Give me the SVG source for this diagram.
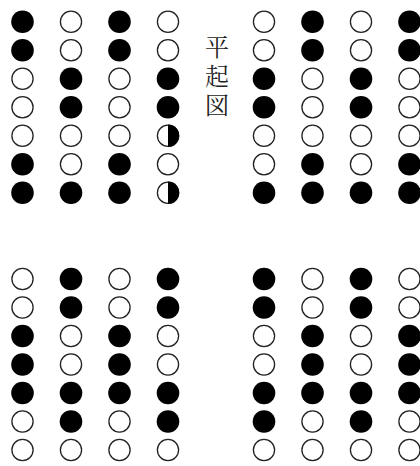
<svg xmlns="http://www.w3.org/2000/svg" xmlns:xlink="http://www.w3.org/1999/xlink" width="420" height="466" viewBox="0 0 420 466">
<defs>
<style>
.lbl{font-family:"Noto Serif CJK JP","Noto Sans CJK JP",serif;font-size:24px;fill:#222;writing-mode:vertical-rl;letter-spacing:5px}
</style>
<circle id="b" r="11.3" fill="#000"/>
<circle id="w" r="10.6" fill="#fff" stroke="#222" stroke-width="1.3"/>
<g id="h"><circle r="10.6" fill="#fff" stroke="#222" stroke-width="1.3"/><path d="M0,-11.3 A11.3,11.3 0 0 1 0,11.3 Z" fill="#000"/></g>
</defs>
<rect width="420" height="466" fill="#fff"/>
<g id="block-top-left">
<use href="#b" x="22.5" y="21.7"/><use href="#w" x="71" y="21.7"/><use href="#b" x="119.5" y="21.7"/><use href="#w" x="168" y="21.7"/>
<use href="#b" x="22.5" y="50.2"/><use href="#w" x="71" y="50.2"/><use href="#b" x="119.5" y="50.2"/><use href="#w" x="168" y="50.2"/>
<use href="#w" x="22.5" y="78.7"/><use href="#b" x="71" y="78.7"/><use href="#w" x="119.5" y="78.7"/><use href="#b" x="168" y="78.7"/>
<use href="#w" x="22.5" y="107.2"/><use href="#b" x="71" y="107.2"/><use href="#w" x="119.5" y="107.2"/><use href="#b" x="168" y="107.2"/>
<use href="#w" x="22.5" y="135.7"/><use href="#w" x="71" y="135.7"/><use href="#w" x="119.5" y="135.7"/><use href="#h" x="168" y="135.7"/>
<use href="#b" x="22.5" y="164.2"/><use href="#w" x="71" y="164.2"/><use href="#b" x="119.5" y="164.2"/><use href="#w" x="168" y="164.2"/>
<use href="#b" x="22.5" y="192.7"/><use href="#b" x="71" y="192.7"/><use href="#b" x="119.5" y="192.7"/><use href="#h" x="168" y="192.7"/>
</g>
<g id="block-top-right">
<use href="#w" x="264" y="21.7"/><use href="#b" x="312.5" y="21.7"/><use href="#w" x="361" y="21.7"/><use href="#b" x="409.5" y="21.7"/>
<use href="#w" x="264" y="50.2"/><use href="#b" x="312.5" y="50.2"/><use href="#w" x="361" y="50.2"/><use href="#b" x="409.5" y="50.2"/>
<use href="#b" x="264" y="78.7"/><use href="#w" x="312.5" y="78.7"/><use href="#b" x="361" y="78.7"/><use href="#w" x="409.5" y="78.7"/>
<use href="#b" x="264" y="107.2"/><use href="#w" x="312.5" y="107.2"/><use href="#b" x="361" y="107.2"/><use href="#w" x="409.5" y="107.2"/>
<use href="#w" x="264" y="135.7"/><use href="#w" x="312.5" y="135.7"/><use href="#w" x="361" y="135.7"/><use href="#w" x="409.5" y="135.7"/>
<use href="#w" x="264" y="164.2"/><use href="#b" x="312.5" y="164.2"/><use href="#w" x="361" y="164.2"/><use href="#b" x="409.5" y="164.2"/>
<use href="#b" x="264" y="192.7"/><use href="#b" x="312.5" y="192.7"/><use href="#b" x="361" y="192.7"/><use href="#b" x="409.5" y="192.7"/>
</g>
<g id="block-bottom-left">
<use href="#w" x="22.5" y="279"/><use href="#b" x="71" y="279"/><use href="#w" x="119.5" y="279"/><use href="#b" x="168" y="279"/>
<use href="#w" x="22.5" y="307.5"/><use href="#b" x="71" y="307.5"/><use href="#w" x="119.5" y="307.5"/><use href="#b" x="168" y="307.5"/>
<use href="#b" x="22.5" y="336"/><use href="#w" x="71" y="336"/><use href="#b" x="119.5" y="336"/><use href="#w" x="168" y="336"/>
<use href="#b" x="22.5" y="364.5"/><use href="#w" x="71" y="364.5"/><use href="#b" x="119.5" y="364.5"/><use href="#w" x="168" y="364.5"/>
<use href="#b" x="22.5" y="393"/><use href="#b" x="71" y="393"/><use href="#b" x="119.5" y="393"/><use href="#b" x="168" y="393"/>
<use href="#w" x="22.5" y="421.5"/><use href="#b" x="71" y="421.5"/><use href="#w" x="119.5" y="421.5"/><use href="#b" x="168" y="421.5"/>
<use href="#w" x="22.5" y="450"/><use href="#w" x="71" y="450"/><use href="#w" x="119.5" y="450"/><use href="#w" x="168" y="450"/>
</g>
<g id="block-bottom-right">
<use href="#b" x="264" y="279"/><use href="#w" x="312.5" y="279"/><use href="#b" x="361" y="279"/><use href="#w" x="409.5" y="279"/>
<use href="#b" x="264" y="307.5"/><use href="#w" x="312.5" y="307.5"/><use href="#b" x="361" y="307.5"/><use href="#w" x="409.5" y="307.5"/>
<use href="#w" x="264" y="336"/><use href="#b" x="312.5" y="336"/><use href="#w" x="361" y="336"/><use href="#b" x="409.5" y="336"/>
<use href="#w" x="264" y="364.5"/><use href="#b" x="312.5" y="364.5"/><use href="#w" x="361" y="364.5"/><use href="#b" x="409.5" y="364.5"/>
<use href="#b" x="264" y="393"/><use href="#b" x="312.5" y="393"/><use href="#b" x="361" y="393"/><use href="#b" x="409.5" y="393"/>
<use href="#b" x="264" y="421.5"/><use href="#w" x="312.5" y="421.5"/><use href="#b" x="361" y="421.5"/><use href="#w" x="409.5" y="421.5"/>
<use href="#w" x="264" y="450"/><use href="#w" x="312.5" y="450"/><use href="#w" x="361" y="450"/><use href="#w" x="409.5" y="450"/>
</g>
<g id="title">
<text class="lbl" x="217" y="35">平起図</text>
</g>
<g id="connectors"/>
</svg>
